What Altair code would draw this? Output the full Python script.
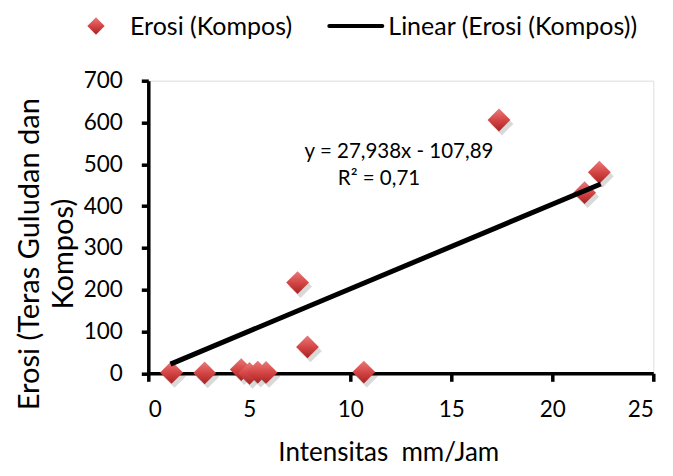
import altair as alt
import pandas as pd

# ---- data ----
intensitas = [1.15, 2.79, 4.60, 5.01, 5.42, 5.83, 7.39, 7.88, 10.67, 17.36, 21.60, 22.33]
erosi = [2, 1, 9, 0, 3, 2, 217, 63, 3, 606, 432, 481]
trend_x = [1.1, 22.4]
trend_y = [22, 453]
x_ticks = [0, 5, 10, 15, 20, 25]
y_ticks = [0, 100, 200, 300, 400, 500, 600, 700]
series_names = ["Erosi (Kompos)", "Linear (Erosi (Kompos))"]
equation_lines = ["y = 27,938x - 107,89", "R\u00b2 = 0,71"]
x_title = "Intensitas\u00a0 mm/Jam"
y_title = ["Erosi (Teras Guludan dan", "Kompos)"]

FONT = "Lato"
W, H = 505, 292.6

pts = pd.DataFrame({"x": intensitas, "y": erosi})
trend = pd.DataFrame({"x": trend_x, "y": trend_y})
one = pd.DataFrame({"k": [0]})
leg1 = pd.DataFrame({"t": [series_names[0]]})
leg2 = pd.DataFrame({"t": [series_names[1]]})
eq1 = pd.DataFrame({"t": [equation_lines[0]]})
eq2 = pd.DataFrame({"t": [equation_lines[1]]})

xs = alt.Scale(domain=[0, 25], nice=False, zero=False)
ys = alt.Scale(domain=[0, 700], nice=False)

x_axis = alt.Axis(
    values=x_ticks, title=x_title, grid=False,
    domainColor="black", domainWidth=3.5, tickColor="black", tickWidth=3.5, tickSize=8,
    labelFont=FONT, labelFontSize=22.5, labelColor="black", labelPadding=17,
    titleFont=FONT, titleFontSize=26, titleFontWeight="normal", titleColor="black",
    titleX=240, titleY=87.5, titleBaseline="alphabetic", titleAlign="center",
)
y_axis = alt.Axis(
    values=y_ticks, title=y_title, grid=False,
    domainColor="black", domainWidth=3.5, tickColor="black", tickWidth=3.5, tickSize=7,
    labelFont=FONT, labelFontSize=22.5, labelColor="black", labelPadding=19,
    titleFont=FONT, titleFontSize=29, titleFontWeight="normal", titleColor="black",
    titleX=-110, titleY=173, titleBaseline="alphabetic", titleAlign="center",
    titleAngle=270, titleLineHeight=34,
)

grad = alt.LinearGradient(
    gradient="linear",
    stops=[
        alt.GradientStop(color="#ea7a7a", offset=0),
        alt.GradientStop(color="#d54646", offset=0.5),
        alt.GradientStop(color="#a82222", offset=1),
    ],
    x1=0, x2=0, y1=0, y2=1,
)

base = alt.Chart(pts).encode(
    x=alt.X("x:Q", scale=xs, axis=x_axis),
    y=alt.Y("y:Q", scale=ys, axis=y_axis),
)

shadow = base.mark_point(shape="diamond", filled=True, color="#000000", opacity=0.15,
                         size=520, xOffset=3, yOffset=4, strokeWidth=0)
points = base.mark_point(shape="diamond", filled=True, fill=grad, opacity=1,
                         size=520, strokeWidth=0)

line = alt.Chart(trend).mark_line(color="black", strokeWidth=5, strokeCap="butt").encode(
    x=alt.X("x:Q", scale=xs), y=alt.Y("y:Q", scale=ys)
)

eq_text1 = alt.Chart(eq1).mark_text(font=FONT, fontSize=20.5, color="black", align="center",
                                    baseline="alphabetic").encode(
    text="t:N", x=alt.value(250.7), y=alt.value(77.6))
eq_text2 = alt.Chart(eq2).mark_text(font=FONT, fontSize=20.5, color="black", align="center",
                                    baseline="alphabetic").encode(
    text="t:N", x=alt.value(230.7), y=alt.value(104.3))

leg_diamond = alt.Chart(one).mark_point(shape="diamond", filled=True, fill=grad, opacity=1,
                                        size=300, strokeWidth=0).encode(
    x=alt.value(-52.3), y=alt.value(-54.7))
leg_text1 = alt.Chart(leg1).mark_text(font=FONT, fontSize=25, color="black", align="left",
                                      baseline="alphabetic").encode(
    text="t:N", x=alt.value(-18.3), y=alt.value(-45.7))
leg_line = alt.Chart(one).mark_rule(color="black", strokeWidth=4, strokeCap="round").encode(
    x=alt.value(181), x2=alt.value(234), y=alt.value(-54.7))
leg_text2 = alt.Chart(leg2).mark_text(font=FONT, fontSize=25, color="black", align="left",
                                      baseline="alphabetic").encode(
    text="t:N", x=alt.value(240), y=alt.value(-45.7))

chart = alt.layer(
    shadow, points, line, eq_text1, eq_text2,
    leg_diamond, leg_text1, leg_line, leg_text2,
).properties(
    width=W, height=H,
    padding={"left": 140.3, "top": 72.7, "right": 11, "bottom": 94},
    autosize=alt.AutoSizeParams(type="none"),
).configure_view(stroke=None).configure(background="white")

chart.save("out.html", embed_options={"renderer": "svg", "actions": False})
